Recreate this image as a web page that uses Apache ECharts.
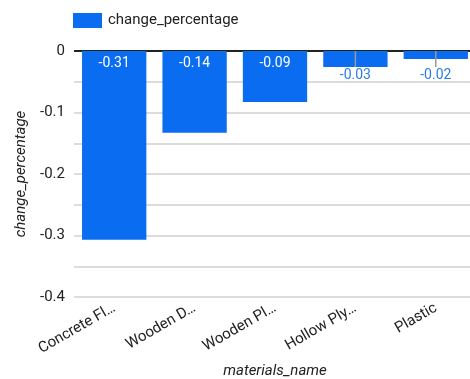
<!DOCTYPE html>
<html>
<head>
<meta charset="utf-8">
<script src="https://cdn.jsdelivr.net/npm/echarts@6/dist/echarts.min.js"></script>
<style>
  html, body { margin: 0; padding: 0; background: #fff; }
  #chart { width: 470px; height: 379px; }
</style>
</head>
<body>
<div id="chart"></div>
<script>
// Materials and their change percentage
const categories = ['Concrete Fl…', 'Wooden D…', 'Wooden Pl…', 'Hollow Ply…', 'Plastic'];
const changePercentage = [-0.307, -0.133, -0.083, -0.026, -0.013];
const yTicks = [0, -0.1, -0.2, -0.3, -0.4];

const BLUE = '#0a6cf0';
const FONT = 'Roboto, "Noto Sans", sans-serif';

// labels are truncated toward the more negative hundredth
const fmt = v => (Math.floor(v * 100 + 1e-9) / 100).toFixed(2);
const insideThreshold = -0.05;

const chart = echarts.init(document.getElementById('chart'), null, { renderer: 'canvas' });

// grid line colours: bottom-up from min, last one is the zero line
const splitColors = [];
for (let v = -0.4; v <= 0.0001; v += 0.05) splitColors.push(Math.abs(v) < 1e-6 ? '#222' : '#dcdcdc');

chart.setOption({
  animation: false,
  textStyle: { fontFamily: FONT },
  legend: {
    left: 73, top: 13, padding: 0,
    icon: 'rect',
    itemWidth: 29, itemHeight: 15, itemGap: 6,
    data: ['change_percentage'],
    textStyle: { fontSize: 15, color: '#222', fontFamily: FONT, padding: [0, 0, 0, 1] }
  },
  grid: { left: 74, right: -6, top: 51, bottom: 82, outerBoundsMode: 'none' },
  xAxis: {
    type: 'category',
    data: categories,
    axisLine: { show: false },
    axisTick: { show: false },
    axisLabel: { rotate: 30, fontSize: 15, color: '#222', margin: 10, interval: 0 },
    name: 'materials_name',
    nameLocation: 'middle',
    nameGap: 67,
    nameTextStyle: { fontStyle: 'italic', fontSize: 15, color: '#222' }
  },
  yAxis: {
    type: 'value',
    min: -0.4, max: 0, interval: 0.05,
    axisLine: { show: false },
    axisTick: { show: false },
    axisLabel: {
      fontSize: 15, color: '#222', margin: 9,
      formatter: v => {
        const hit = yTicks.find(t => Math.abs(t - v) < 1e-6);
        return hit === undefined ? '' : String(hit);
      }
    },
    splitLine: { lineStyle: { color: splitColors, width: 2 } },
    name: 'change_percentage',
    nameLocation: 'middle',
    nameGap: 38,
    nameTextStyle: { fontStyle: 'italic', fontSize: 15, color: '#222' }
  },
  series: [
    {
      name: 'change_percentage',
      type: 'bar',
      data: changePercentage,
      itemStyle: { color: BLUE },
      barCategoryGap: '20%',
      label: {
        show: true,
        position: 'insideTop',
        distance: 5,
        fontSize: 14,
        color: '#fff',
        formatter: p => (p.value <= insideThreshold ? fmt(p.value) : '')
      }
    },
    {
      // leader line and value label for bars too short to hold their label
      name: 'outside',
      type: 'custom',
      data: changePercentage.map((v, i) => [i, v]),
      silent: true,
      z: 5,
      renderItem: (params, api) => {
        const v = api.value(1);
        if (v <= insideThreshold) return null;
        const p0 = api.coord([api.value(0), 0]);
        return {
          type: 'group',
          children: [
            { type: 'line', shape: { x1: p0[0], y1: p0[1], x2: p0[0], y2: p0[1] + 16 },
              style: { stroke: '#999', lineWidth: 1.5 } },
            { type: 'text', x: p0[0], y: p0[1] + 17,
              style: { text: fmt(v), fill: '#2a7de8', fontSize: 14, fontFamily: FONT,
                       align: 'center', verticalAlign: 'top' } }
          ]
        };
      }
    }
  ]
});
</script>
</body>
</html>
